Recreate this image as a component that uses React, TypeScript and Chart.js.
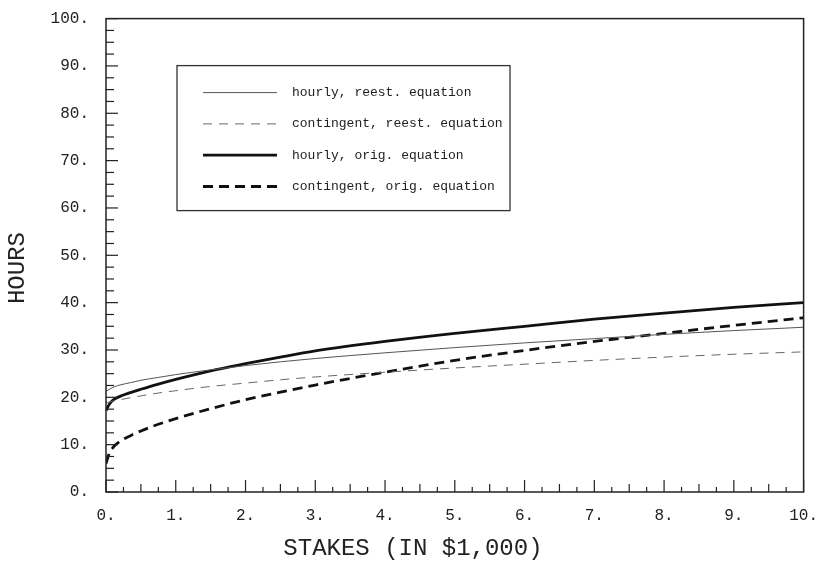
import React, { useEffect, useRef } from "react";
import { Chart, registerables } from "chart.js";

Chart.register(...registerables);

// Stakes (in $1,000)
const stakes = [0, 0.05, 0.1, 0.2, 0.35, 0.5, 0.75, 1, 1.5, 2, 2.5, 3, 4, 5, 6, 7, 8, 9, 10];

const hourlyReest = [21.3, 21.7, 22.1, 22.6, 23.1, 23.6, 24.2, 24.8, 25.8, 26.7, 27.5, 28.2, 29.4, 30.5, 31.5, 32.4, 33.3, 34.1, 34.8];
const contingentReest = [18.8, 19.0, 19.2, 19.5, 19.9, 20.3, 20.9, 21.4, 22.3, 23.0, 23.7, 24.3, 25.3, 26.2, 27.0, 27.8, 28.5, 29.1, 29.6];
const hourlyOrig = [17.2, 18.6, 19.4, 20.2, 21.0, 21.7, 22.8, 23.8, 25.6, 27.1, 28.5, 29.8, 31.8, 33.5, 35.0, 36.5, 37.8, 39.0, 40.0];
const contingentOrig = [6.0, 8.3, 9.4, 10.7, 11.9, 12.9, 14.3, 15.5, 17.6, 19.5, 21.1, 22.6, 25.3, 27.8, 29.9, 31.8, 33.5, 35.2, 36.8];

const seriesLabels = [
  "hourly, reest. equation",
  "contingent, reest. equation",
  "hourly, orig. equation",
  "contingent, orig. equation",
];

const xTitle = "STAKES (IN $1,000)";
const yTitle = "HOURS";

const toPoints = (ys: number[]) => stakes.map((x, i) => ({ x, y: ys[i] }));

const INK = "#222";

const framePlugin = {
  id: "frameTicks",
  afterDraw(chart: any) {
    const { ctx, chartArea: a, scales } = chart;
    const xs = scales.x;
    const ys = scales.y;
    ctx.save();
    ctx.strokeStyle = INK;
    ctx.lineWidth = 1.5;
    ctx.strokeRect(a.left, a.top, a.right - a.left, a.bottom - a.top);
    ctx.lineWidth = 1.2;
    // x ticks every 0.25, inside
    for (let i = 0; i <= 40; i++) {
      const v = i * 0.25;
      const px = xs.getPixelForValue(v);
      const len = i % 4 === 0 ? 12 : i % 2 === 0 ? 8 : 5;
      ctx.beginPath();
      ctx.moveTo(px, a.bottom);
      ctx.lineTo(px, a.bottom - len);
      ctx.stroke();
    }
    // y ticks every 2.5, inside
    for (let i = 0; i <= 40; i++) {
      const v = i * 2.5;
      const py = ys.getPixelForValue(v);
      const len = i % 4 === 0 ? 12 : 8;
      ctx.beginPath();
      ctx.moveTo(a.left, py);
      ctx.lineTo(a.left + len, py);
      ctx.stroke();
    }
    // axis titles
    ctx.fillStyle = INK;
    ctx.font = "24px 'Liberation Mono'";
    ctx.textAlign = "center";
    ctx.textBaseline = "middle";
    ctx.fillText(xTitle, a.left + (a.right - a.left) * 0.44, chart.height - 13);
    ctx.save();
    ctx.translate(18, a.top + (a.bottom - a.top) * 0.527);
    ctx.rotate(-Math.PI / 2);
    ctx.fillText(yTitle, 0, 0);
    ctx.restore();

    // legend box
    const bx = a.left + 71;
    const by = a.top + 47;
    const bw = 333;
    const bh = 145;
    ctx.lineWidth = 1.3;
    ctx.strokeStyle = "#333";
    ctx.strokeRect(bx, by, bw, bh);
    ctx.font = "13px 'Liberation Mono'";
    ctx.textAlign = "left";
    chart.data.datasets.forEach((ds: any, i: number) => {
      const ry = by + 27 + i * 31.3;
      ctx.save();
      ctx.strokeStyle = ds.borderColor;
      ctx.lineWidth = ds.borderWidth;
      ctx.setLineDash(ds.borderDash || []);
      ctx.beginPath();
      ctx.moveTo(bx + 26, ry);
      ctx.lineTo(bx + 100, ry);
      ctx.stroke();
      ctx.restore();
      ctx.fillStyle = INK;
      ctx.fillText(ds.label, bx + 115, ry);
    });
    ctx.restore();
  },
};

export default function App() {
  const ref = useRef<HTMLCanvasElement | null>(null);
  useEffect(() => {
    if (!ref.current) return;
    const chart = new Chart(ref.current, {
      type: "line",
      data: {
        datasets: [
          { label: seriesLabels[0], data: toPoints(hourlyReest), borderColor: "#555", borderWidth: 1, borderDash: [], pointRadius: 0, cubicInterpolationMode: "monotone" },
          { label: seriesLabels[1], data: toPoints(contingentReest), borderColor: "#666", borderWidth: 1, borderDash: [9, 7], pointRadius: 0, cubicInterpolationMode: "monotone" },
          { label: seriesLabels[2], data: toPoints(hourlyOrig), borderColor: "#111", borderWidth: 2.8, borderDash: [], pointRadius: 0, cubicInterpolationMode: "monotone" },
          { label: seriesLabels[3], data: toPoints(contingentOrig), borderColor: "#111", borderWidth: 2.8, borderDash: [10, 6], pointRadius: 0, cubicInterpolationMode: "monotone" },
        ] as any,
      },
      options: {
        animation: false,
        responsive: false,
        layout: { autoPadding: false, padding: { top: 15, right: 15, left: 0, bottom: 0 } },
        plugins: { legend: { display: false }, tooltip: { enabled: false } },
        scales: {
          x: {
            type: "linear",
            min: 0,
            max: 10,
            grid: { display: false },
            border: { display: false },
            ticks: {
              stepSize: 1,
              padding: 6,
              color: INK,
              font: { family: "'Liberation Mono'", size: 16 },
              maxRotation: 0,
              callback: (v: any) => `${v}.`,
            },
            afterFit: (s: any) => { s.height = 70; },
          },
          y: {
            type: "linear",
            min: 0,
            max: 100,
            grid: { display: false },
            border: { display: false },
            ticks: {
              stepSize: 10,
              padding: 9,
              color: INK,
              font: { family: "'Liberation Mono'", size: 16 },
              callback: (v: any) => `${v}.`,
            },
            afterFit: (s: any) => { s.width = 106; },
          },
        },
      },
      plugins: [framePlugin],
    });
    return () => chart.destroy();
  }, []);
  return (
    <div style={{ position: "absolute", left: 0, top: 0, width: 824, height: 562, background: "#fff" }}>
      <canvas ref={ref} width={824} height={562} />
    </div>
  );
}
